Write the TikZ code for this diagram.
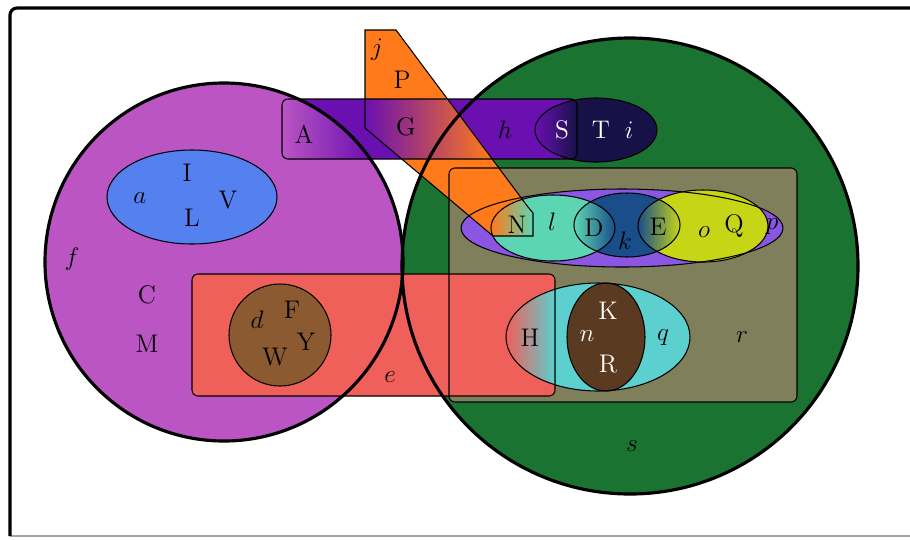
\documentclass[tikz,border=0pt]{standalone}
\usepackage{tikz}

\definecolor{fcol}{RGB}{186,85,195}
\definecolor{scol}{RGB}{27,115,50}
\definecolor{acol}{RGB}{85,128,240}
\definecolor{hcol}{RGB}{106,16,176}
\definecolor{icol}{RGB}{22,18,72}
\definecolor{jcol}{RGB}{255,122,26}
\definecolor{rcol}{RGB}{127,127,92}
\definecolor{pcol}{RGB}{138,86,226}
\definecolor{lcol}{RGB}{92,214,178}
\definecolor{kcol}{RGB}{26,78,138}
\definecolor{ocol}{RGB}{198,214,22}
\definecolor{ecol}{RGB}{240,96,90}
\definecolor{dcol}{RGB}{139,90,48}
\definecolor{qcol}{RGB}{92,207,207}
\definecolor{ncol}{RGB}{90,58,32}

% set shapes (pixel coordinates, y downwards)
\newcommand{\setF}{(224,262) circle [radius=179]}
\newcommand{\setS}{(630,266) circle [radius=228]}
\newcommand{\setA}{(192,197) ellipse [x radius=85, y radius=47]}
\newcommand{\setH}{[rounded corners=3.4pt] (282,99) rectangle (577,159)}
\newcommand{\setI}{(596,130) ellipse [x radius=61, y radius=32]}
\newcommand{\setJ}{(365,30) -- (396,30) -- (528,207) -- (533,213) -- (533,236) -- (493,236) -- (365,128) -- cycle}
\newcommand{\setR}{[rounded corners=3.4pt] (449,168) rectangle (797,402)}
\newcommand{\setP}{(622,228) ellipse [x radius=161, y radius=39]}
\newcommand{\setL}{(553,228) ellipse [x radius=62, y radius=33]}
\newcommand{\setK}{(627,225) ellipse [x radius=53, y radius=32]}
\newcommand{\setO}{(703,226) ellipse [x radius=65, y radius=36]}
\newcommand{\setQ}{(598,337) ellipse [x radius=92, y radius=54]}
\newcommand{\setN}{(606,337) ellipse [x radius=39, y radius=54]}
\newcommand{\setE}{[rounded corners=3.4pt] (192,274) rectangle (555,396)}
\newcommand{\setD}{(280,335) circle [radius=51]}

\begin{document}
\begin{tikzpicture}[
    x=0.02cm, y=-0.02cm,
    outline/.style={draw=black, line width=0.6pt},
    bigset/.style={draw=black, line width=1.8pt},
    lbl/.style={font=\fontsize{14.5}{17}\selectfont, inner sep=0pt},
    wlbl/.style={lbl, text=white}
]
\useasboundingbox (0,0) rectangle (910,539);

% Frame
\draw[gray!70, line width=0.6pt] (10,536) -- (910,536);
\draw[line width=1.8pt, rounded corners=4pt] (10,536) -- (10,8) -- (910,8);

% Fills
\fill[fcol] \setF;
\fill[scol] \setS;
\fill[acol] \setA;
\fill[rcol] \setR;
\fill[pcol] \setP;
\fill[lcol] \setL;
\fill[kcol] \setK;
\fill[ocol] \setO;
\fill[qcol] \setQ;
\fill[ncol] \setN;
\fill[ecol] \setE;
\fill[dcol] \setD;
\fill[hcol] \setH;
\fill[icol] \setI;
\fill[jcol] \setJ;

% Shaded overlaps
\begin{scope}
  \clip \setF; \clip \setH;
  \fill[left color=fcol, right color=hcol] (282,99) rectangle (370,159);
\end{scope}
\begin{scope}
  \clip \setH; \clip \setJ;
  \fill[left color=hcol, right color=jcol] (365,99) rectangle (492,159);
\end{scope}
\begin{scope}
  \clip \setH; \clip \setI;
  \fill[left color=hcol, right color=icol] (535,99) rectangle (577,159);
\end{scope}
\begin{scope}
  \clip \setJ; \clip \setL;
  \fill[left color=jcol, right color=lcol] (491,195) rectangle (533,236);
\end{scope}
\begin{scope}
  \clip \setL; \clip \setK;
  \fill[left color=lcol, right color=kcol] (574,193) rectangle (615,261);
\end{scope}
\begin{scope}
  \clip \setK; \clip \setO;
  \fill[left color=kcol, right color=ocol] (638,190) rectangle (680,262);
\end{scope}
\begin{scope}
  \clip \setE; \clip \setQ;
  \fill[left color=ecol, right color=qcol] (506,283) rectangle (555,391);
\end{scope}

% Outlines
\path[outline] \setA;
\path[outline] \setR;
\path[outline] \setP;
\path[outline] \setL;
\path[outline] \setK;
\path[outline] \setO;
\path[outline] \setQ;
\path[outline] \setN;
\path[outline] \setE;
\path[outline] \setD;
\path[outline] \setH;
\path[outline] \setI;
\path[outline] \setJ;
\path[bigset] \setF;
\path[bigset] \setS;

% Labels
\node[lbl] (lj) at (377,50) {$j$};
\node[lbl] (lP) at (402,80) {P};
\node[lbl] (lA) at (304,134) {A};
\node[lbl] (lG) at (406,127) {G};
\node[lbl] (lh) at (505,130) {$h$};
\node[wlbl] (lS) at (562,130) {S};
\node[wlbl] (lT) at (601,130) {T};
\node[wlbl] (li) at (629,130) {$i$};
\node[lbl] (la) at (140,198) {$a$};
\node[lbl] (lI) at (187,173) {I};
\node[lbl] (lL) at (192,218) {L};
\node[lbl] (lV) at (228,200) {V};
\node[lbl] (lf) at (72,259) {$f$};
\node[lbl] (lC) at (147,295) {C};
\node[lbl] (lM) at (147,344) {M};
\node[lbl] (ld) at (257,320) {$d$};
\node[lbl] (lF) at (292,310) {F};
\node[lbl] (lY) at (306,342) {Y};
\node[lbl] (lW) at (275,357) {W};
\node[lbl] (le) at (390,377) {$e$};
\node[lbl] (lN) at (517,225) {N};
\node[lbl] (ll) at (552,222) {$l$};
\node[lbl] (lD) at (594,228) {D};
\node[lbl] (lk) at (625,241) {$k$};
\node[lbl] (lE) at (658,227) {E};
\node[lbl] (lo) at (704,232) {$o$};
\node[lbl] (lQ) at (734,226) {Q};
\node[lbl] (lp) at (772,227) {$p$};
\node[lbl] (lH) at (530,338) {H};
\node[wlbl] (ln) at (587,336) {$n$};
\node[wlbl] (lK) at (608,311) {K};
\node[wlbl] (lR) at (608,364) {R};
\node[lbl] (lq) at (663,338) {$q$};
\node[lbl] (lr) at (742,337) {$r$};
\node[lbl] (ls) at (632,446) {$s$};

\end{tikzpicture}
\end{document}
